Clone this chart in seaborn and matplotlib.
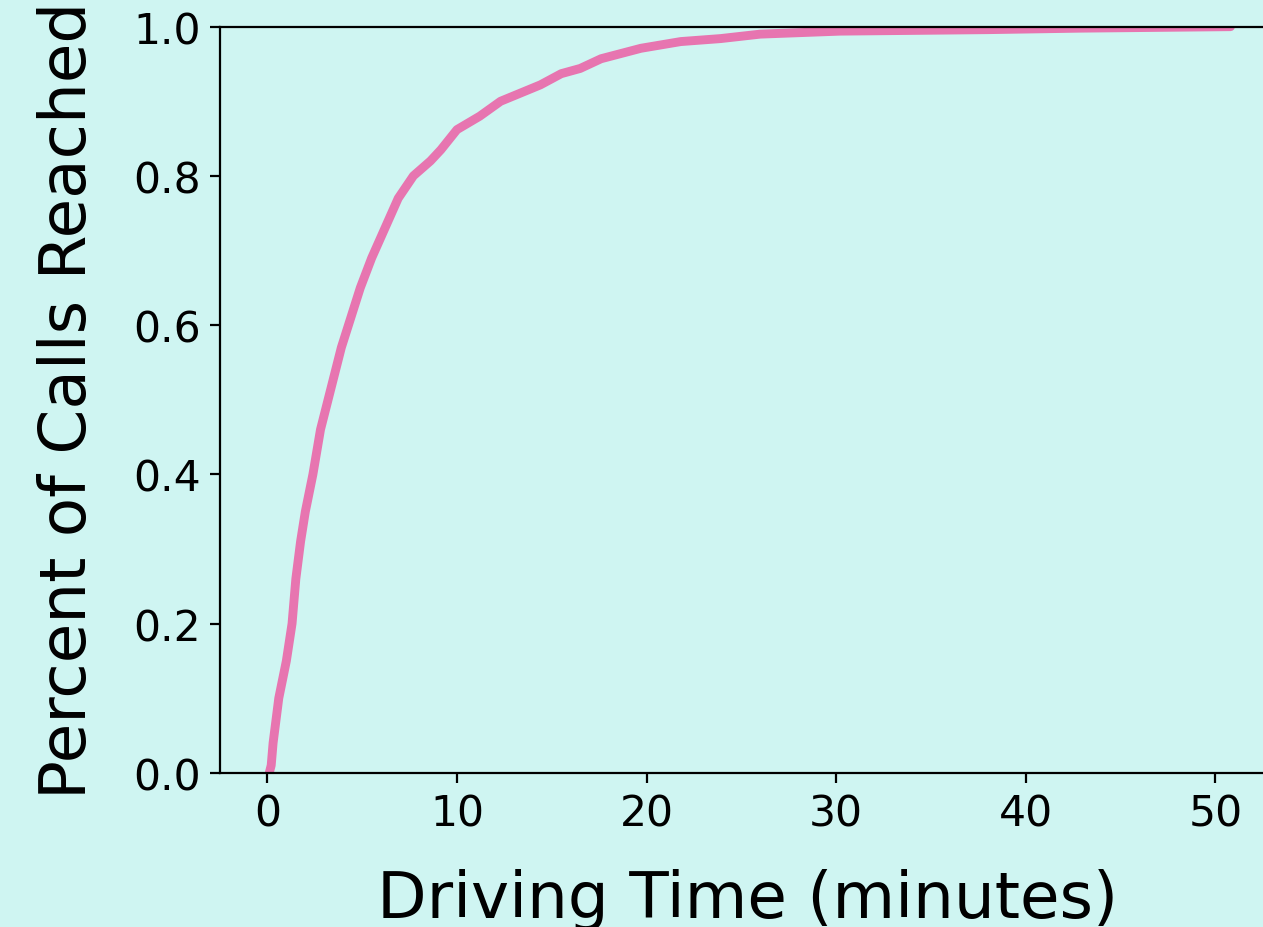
import matplotlib
matplotlib.use("Agg")
import matplotlib.pyplot as plt
import seaborn as sns
import pandas as pd

# Cumulative share of calls reached by driving time
driving_minutes = [0.1, 0.2, 0.3, 0.6, 1.0, 1.3, 1.5, 1.75, 2.0, 2.4, 2.8,
                   3.4, 3.9, 4.4, 4.9, 5.5, 6.2, 6.9, 7.7, 8.6, 9.15, 10.0,
                   11.2, 12.3, 14.4, 15.5, 16.5, 17.6, 19.7, 21.8, 23.9,
                   26.0, 30.2, 38.0, 42.9, 50.8]
share_reached = [0.0, 0.01, 0.04, 0.10, 0.15, 0.20, 0.26, 0.31, 0.35, 0.40,
                 0.46, 0.52, 0.57, 0.61, 0.65, 0.69, 0.73, 0.77, 0.80, 0.82,
                 0.835, 0.862, 0.880, 0.900, 0.922, 0.937, 0.944, 0.957,
                 0.971, 0.980, 0.984, 0.990, 0.994, 0.996, 0.998, 1.0]

df = pd.DataFrame({"minutes": driving_minutes, "share": share_reached})

bg = "#cff5f2"
sns.set_theme(style="ticks", rc={
    "axes.facecolor": bg,
    "figure.facecolor": bg,
    "axes.edgecolor": "black",
    "xtick.color": "black",
    "ytick.color": "black",
    "axes.labelcolor": "black",
})
plt.rcParams["font.family"] = ["DejaVu Sans"]

fig = plt.figure(figsize=(6.315, 4.64), dpi=200)
ax = fig.add_axes([0.1742, 0.1662, 0.8361, 0.8040])

sns.lineplot(data=df, x="minutes", y="share", color="#e775b0",
             linewidth=3.2, estimator=None, sort=False, ax=ax)

ax.set_xlim(-2.5, 53.2)
ax.set_ylim(0, 1)
ax.set_xticks([0, 10, 20, 30, 40, 50])
ax.set_yticks([0.0, 0.2, 0.4, 0.6, 0.8, 1.0])
ax.tick_params(labelsize=15.3, length=3.5, width=0.8)
for s in ax.spines.values():
    s.set_linewidth(0.8)

ax.set_xlabel("Driving Time (minutes)", fontsize=23.2, labelpad=12)
ax.set_ylabel("Percent of Calls Reached", fontsize=23.2, labelpad=12)

fig.savefig("out.png", dpi=200, facecolor=bg)
